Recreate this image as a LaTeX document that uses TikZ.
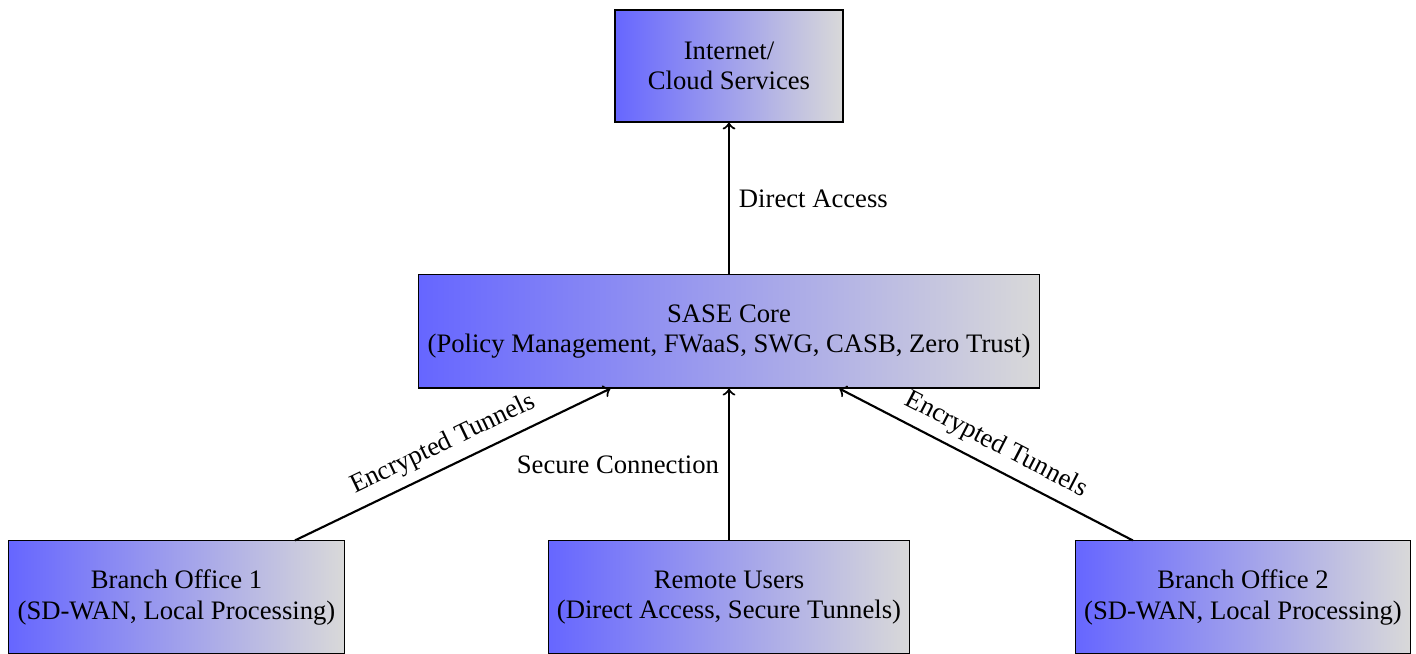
\documentclass[tikz,border=0pt]{standalone}
\usepackage{fontspec}
\setmainfont{Liberation Serif}
\begin{document}
\begin{tikzpicture}[x=0.375pt,y=-0.375pt,
  every node/.style={font=\fontsize{10}{11.5}\selectfont},
  box/.style={draw, left color=blue!60, right color=gray!30, align=center, minimum height=42.4pt},
  link/.style={->, thick}]
\useasboundingbox (0,0) rectangle (1416,654);
% nodes
\node[box, minimum width=85.5pt, minimum height=42pt] (cloud) at (729,66) {Internet/\\Cloud Services};
\node[box, minimum width=231.75pt] (sase) at (729,331.5) {SASE Core\\(Policy Management, FWaaS, SWG, CASB, Zero Trust)};
\node[box, minimum width=124.9pt] (b1) at (176.5,597.5) {Branch Office 1\\(SD-WAN, Local Processing)};
\node[box, minimum width=135.4pt] (ru) at (729,597.5) {Remote Users\\(Direct Access, Secure Tunnels)};
\node[box, minimum width=125.25pt] (b2) at (1243,597.5) {Branch Office 2\\(SD-WAN, Local Processing)};
% connections
\draw[link] (sase) -- node[right] {Direct Access} (cloud);
\draw[link] (b1) -- node[above, sloped] {Encrypted Tunnels} (sase);
\draw[link] (ru) -- node[left] {Secure Connection} (sase);
\draw[link] (b2) -- node[above, sloped] {Encrypted Tunnels} (sase);
\end{tikzpicture}
\end{document}
